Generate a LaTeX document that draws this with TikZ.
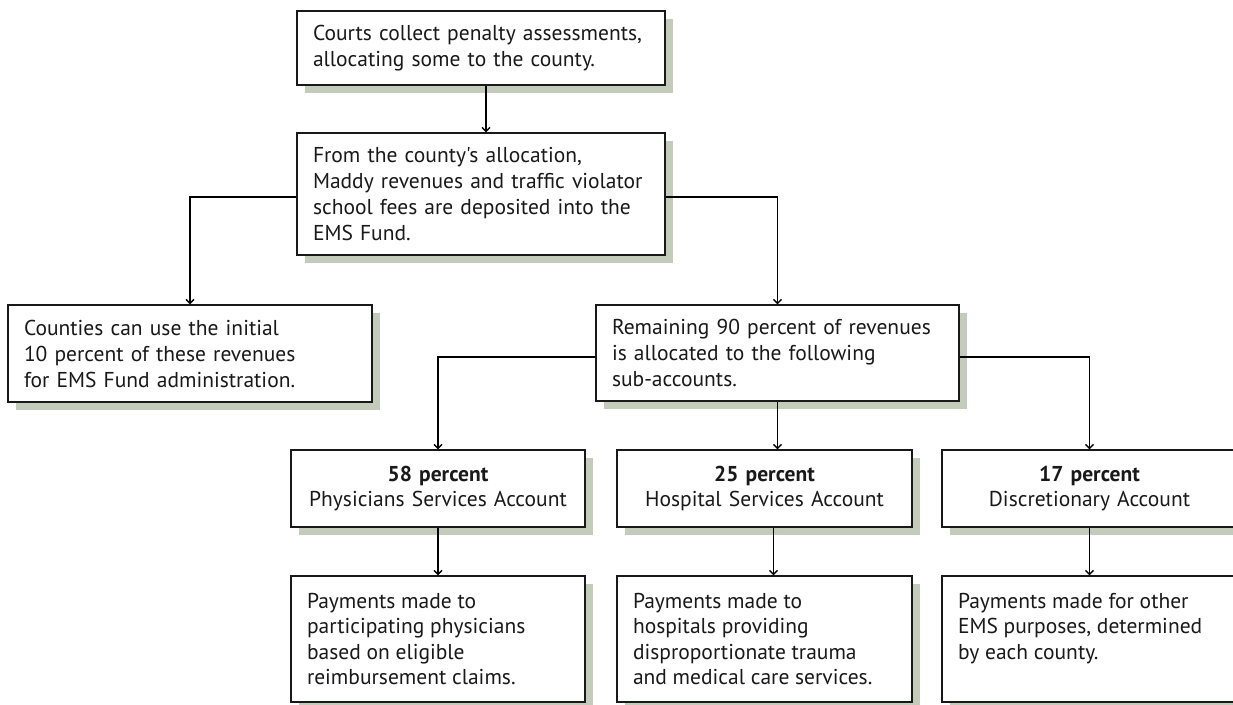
\documentclass[tikz,border=0pt]{standalone}
\usepackage{fontspec}
\setmainfont{PT Sans}[Ligatures=TeXOff]
\usetikzlibrary{arrows.meta,shadows,calc}
\definecolor{shadowc}{RGB}{195,203,186}
\definecolor{inkc}{RGB}{25,25,25}
\begin{document}
\begin{tikzpicture}[x=1pt,y=-1pt,
  box/.style={draw=inkc, line width=1.1pt, fill=white, inner xsep=16pt, inner ysep=0pt,
    align=left, font=\fontsize{21.5}{26}\selectfont, text=inkc,
    drop shadow={shadow xshift=8pt, shadow yshift=-8pt, fill=shadowc, opacity=1}},
  cbox/.style={box, align=center, font=\fontsize{21.5}{25}\selectfont},
  paybox/.style={box, minimum height=126pt, font=\fontsize{21.5}{25.5}\selectfont},
  arr/.style={draw=black, line width=1.4pt, -{Straight Barb[length=4pt,width=8pt]}}]
\clip (0,0) rectangle (1233,704);
\fill[white] (0,0) rectangle (1233,704);

\node[box, text width=336pt, minimum height=74pt] (b1) at (481,48)
  {Courts collect penalty assessments,\\allocating some to the county.};
\node[box, text width=336pt, minimum height=122pt] (b2) at (481,194)
  {From the county's allocation,\\Maddy revenues and traffic violator\\school fees are deposited into the\\EMS Fund.};
\node[box, text width=332pt, minimum height=97pt] (cnt) at (190,353.5)
  {Counties can use the initial\\10 percent of these revenues\\for EMS Fund administration.};
\node[box, text width=331pt, minimum height=96pt] (rem) at (777.5,353)
  {Remaining 90 percent of revenues\\is allocated to the following\\sub-accounts.};

\node[cbox, text width=262pt, minimum height=77pt] (p58) at (438,488.5)
  {\textbf{58 percent}\\Physicians Services Account};
\node[cbox, text width=263pt, minimum height=77pt] (p25) at (764.5,488.5)
  {\textbf{25 percent}\\Hospital Services Account};
\node[cbox, text width=263pt, minimum height=77pt] (p17) at (1089.5,488.5)
  {\textbf{17 percent}\\Discretionary Account};

\node[paybox] (pay58) at (438,639)
  {\parbox[c][92pt][t]{262pt}{\raggedright Payments made to\\participating physicians\\based on eligible\\reimbursement claims.}};
\node[paybox] (pay25) at (764.5,639)
  {\parbox[c][92pt][t]{263pt}{\raggedright Payments made to\\hospitals providing\\disproportionate trauma\\and medical care services.}};
\node[paybox] (pay17) at (1089.5,639)
  {\parbox[c][92pt][t]{263pt}{\raggedright Payments made for other\\EMS purposes, determined\\by each county.}};

\draw[arr] ([xshift=5pt]b1.south) -- ([xshift=5pt]b2.north);
\draw[arr] ([yshift=-3pt]b2.west) -| (cnt.north);
\draw[arr] ([yshift=-3pt]b2.east) -| (rem.north);
\draw[arr] ([yshift=-4pt]rem.west) -| (p58.north);
\draw[arr] (rem.south) -- (rem.south |- p25.north);
\draw[arr] ([yshift=-4pt]rem.east) -| (p17.north);
\draw[arr] (p58.south) -- (pay58.north);
\draw[arr] ([xshift=9pt]p25.south) -- ([xshift=9pt]pay25.north);
\draw[arr] (p17.south) -- (pay17.north);
\end{tikzpicture}
\end{document}
